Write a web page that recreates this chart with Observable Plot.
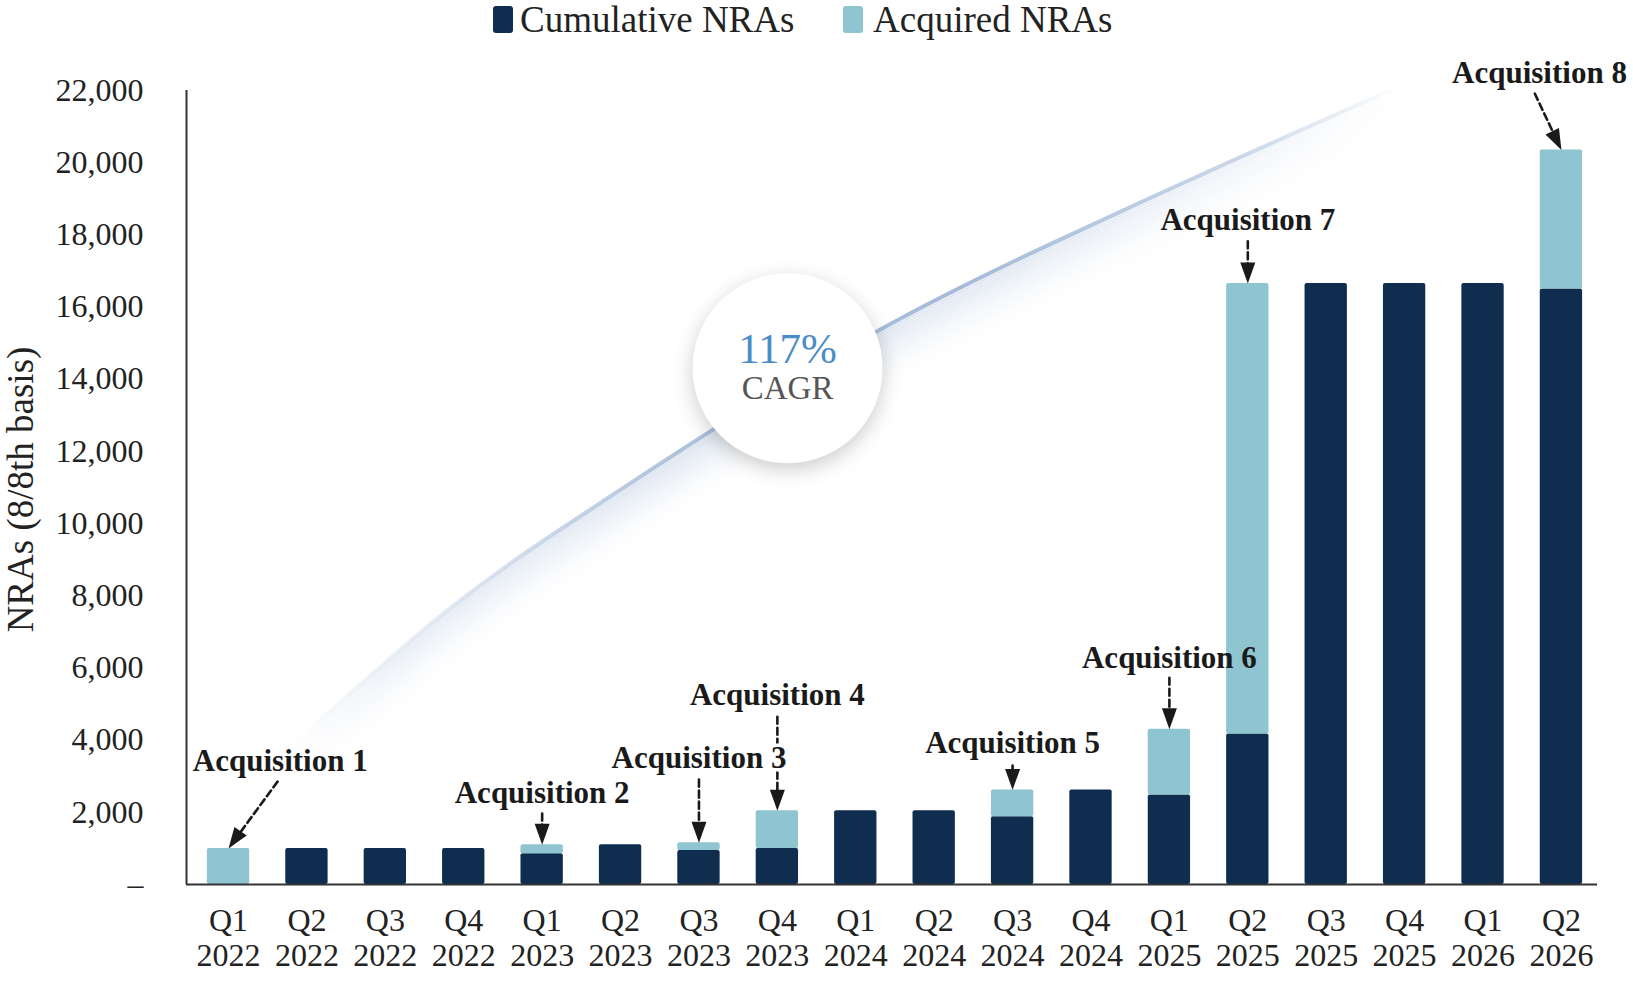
<!DOCTYPE html>
<html>
<head>
<meta charset="utf-8">
<script src="https://cdn.jsdelivr.net/npm/d3@7"></script>
<script src="https://cdn.jsdelivr.net/npm/@observablehq/plot@0.6"></script>
<style>
html, body { margin: 0; padding: 0; background: #fff; }
body { width: 1633px; height: 996px; overflow: hidden; font-family: "Liberation Serif", "Times New Roman", serif; }
#legend { position: relative; height: 40px; }
.sw { position: absolute; top: 6px; width: 20px; height: 27px; border-radius: 3px; }
.lt { position: absolute; top: 0; height: 40px; line-height: 40px; font-size: 37px; color: #222; white-space: nowrap; }
svg g[aria-label="dot"] circle { filter: drop-shadow(0px 6px 10px rgba(0,0,0,0.20)); }
</style>
</head>
<body>
<div id="legend"></div>
<div id="chart"></div>
<script>
// ---------- data ----------
const quarters = ["Q1\n2022","Q2\n2022","Q3\n2022","Q4\n2022",
                  "Q1\n2023","Q2\n2023","Q3\n2023","Q4\n2023",
                  "Q1\n2024","Q2\n2024","Q3\n2024","Q4\n2024",
                  "Q1\n2025","Q2\n2025","Q3\n2025","Q4\n2025",
                  "Q1\n2026","Q2\n2026"];
const cumulativeNRAs = [0, 1000, 1000, 1000, 850, 1100, 940, 1000, 2040, 2040, 1880, 2620, 2480, 4170, 16650, 16650, 16650, 16500];
const acquiredNRAs   = [1000, 0, 0, 0, 250, 0, 220, 1040, 0, 0, 740, 0, 1820, 12480, 0, 0, 0, 3850];
const seriesNames  = ["Cumulative NRAs", "Acquired NRAs"];
const seriesColors = ["#0f2d4e", "#8ec5d0"];
const yTicks = d3.range(0, 22001, 2000);
const yLabel = "NRAs (8/8th basis)";
const cagrValue = "117%";
const cagrText = "CAGR";
const acquisitionLabels  = ["Acquisition 1","Acquisition 2","Acquisition 3","Acquisition 4",
                            "Acquisition 5","Acquisition 6","Acquisition 7","Acquisition 8"];
const acquisitionQuarter = [0, 4, 6, 7, 10, 12, 13, 17];
// CAGR swoosh path (quarter index, NRAs)
const swooshX = [0.79, 2.83, 4.53, 6.19, 8.32, 10.42, 12.78, 14.95];
const swooshY = [3846, 7665, 10266, 12618, 15385, 17682, 20033, 22136];
const cagrBadge = {x: 7.13, y: 14305};

// ---------- annotation layout (label / arrow start, in data units) ----------
const annLayout = [
  {tx: 0.66,  ty: 3431,  ax: 0.625, ay: 2850,  rot: 35,  halo: false},
  {tx: 4,     ty: 2546,  ax: 4,     ay: 1965,  rot: 0,   halo: false},
  {tx: 6,     ty: 3514,  ax: 6,     ay: 2905,  rot: 0,   halo: true},
  {tx: 7,     ty: 5257,  ax: 7,     ay: 4649,  rot: 0,   halo: false},
  {tx: 10,    ty: 3929,  ax: 10,    ay: 3293,  rot: 0,   halo: false},
  {tx: 12,    ty: 6281,  ax: 12,    ay: 5728,  rot: 0,   halo: false},
  {tx: 13,    ty: 18400, ax: 13,    ay: 17820, rot: 0,   halo: false},
  {tx: 16.72, ty: 22496, ax: 16.66, ay: 21915, rot: -26, halo: false}
];

// ---------- derived tables ----------
const totals = quarters.map((q, i) => cumulativeNRAs[i] + acquiredNRAs[i]);
const rects = quarters.flatMap((q, i) => [
  {i, series: seriesNames[0], y1: 0, y2: cumulativeNRAs[i]},
  {i, series: seriesNames[1], y1: cumulativeNRAs[i], y2: totals[i]}
]).filter(d => d.y2 > d.y1);
const anns = acquisitionLabels.map((label, k) => ({
  label, ...annLayout[k],
  tipX: acquisitionQuarter[k], tipY: totals[acquisitionQuarter[k]]
}));
const swoosh = swooshX.map((x, k) => ({x, y: swooshY[k]}));

// ---------- legend ----------
const legend = document.getElementById("legend");
const legendPos = [[493, 520], [843, 873]];
seriesNames.forEach((name, k) => {
  const s = document.createElement("div");
  s.className = "sw"; s.style.left = legendPos[k][0] + "px"; s.style.background = seriesColors[k];
  const t = document.createElement("div");
  t.className = "lt"; t.style.left = legendPos[k][1] + "px"; t.textContent = name;
  legend.append(s, t);
});

// arrowhead symbol: apex at origin, pointing down
const arrowHead = {
  draw(context) {
    context.moveTo(0, 0);
    context.lineTo(-7.5, -21);
    context.lineTo(7.5, -21);
    context.closePath();
  }
};

const xDomain = [-0.536, 17.46];
const marks = [];
// swoosh shadow
for (let k = 1; k <= 22; k++) {
  marks.push(Plot.line(swoosh, {x: "x", y: "y", curve: "natural", dy: k * 2.8,
    stroke: "url(#swooshShadow)", strokeWidth: 3.4,
    strokeOpacity: 0.30 * Math.pow(1 - k / 23, 1.6)}));
}
const annText = {x: "tx", y: "ty", text: "label", fontSize: 31, fontWeight: "bold", fill: "#1a1a1a"};
marks.push(
  Plot.line(swoosh, {x: "x", y: "y", curve: "natural", stroke: "url(#swooshStroke)", strokeWidth: 4}),
  Plot.dot([cagrBadge], {x: "x", y: "y", r: 95, fill: "white", stroke: "none"}),
  Plot.text([cagrBadge], {x: "x", y: "y", text: () => cagrValue, dy: -19, fontSize: 43, fill: "#4a8cc6"}),
  Plot.text([cagrBadge], {x: "x", y: "y", text: () => cagrText, dy: 20, fontSize: 33, fill: "#555555"}),
  Plot.rect(rects, {x1: d => d.i - 0.27, x2: d => d.i + 0.27, y1: "y1", y2: "y2", fill: "series", rx: 2}),
  Plot.ruleY([0], {stroke: "#333", strokeWidth: 2}),
  Plot.ruleX([xDomain[0]], {y1: 0, y2: 22000, stroke: "#333", strokeWidth: 2}),
  Plot.axisY({ticks: yTicks, tickSize: 0, tickPadding: 43, label: null,
    tickFormat: d => d === 0 ? "–" : d3.format(",")(d), fontSize: 32, fill: "#222"}),
  Plot.axisX({ticks: d3.range(quarters.length), tickSize: 0, tickPadding: 21, label: null,
    tickFormat: i => quarters[i], lineHeight: 1.1, fontSize: 32, fill: "#222"}),
  Plot.text([yLabel], {frameAnchor: "left", textAnchor: "middle", rotate: -90, dx: -165, dy: 2,
    text: d => d, fontSize: 37, fill: "#222"}),
  Plot.arrow(anns, {x1: "ax", y1: "ay", x2: "tipX", y2: "tipY", headLength: 0, insetEnd: 14,
    stroke: "#1a1a1a", strokeWidth: 2.6, strokeDasharray: "7,4"}),
  Plot.dot(anns, {x: "tipX", y: "tipY", symbol: arrowHead, rotate: "rot", fill: "#1a1a1a", stroke: "none", r: 5}),
  Plot.text(anns, {...annText, filter: d => !d.halo}),
  Plot.text(anns, {...annText, filter: d => d.halo, stroke: "white", strokeWidth: 7, paintOrder: "stroke"})
);

const chart = Plot.plot({
  width: 1633,
  height: 956,
  marginLeft: 186,
  marginRight: 36,
  marginTop: 50,
  marginBottom: 112,
  x: {type: "linear", domain: xDomain},
  y: {domain: [0, 22000]},
  color: {domain: seriesNames, range: seriesColors},
  style: {fontFamily: "'Liberation Serif', 'Times New Roman', serif", fontSize: "32px", color: "#222", background: "white", overflow: "visible"},
  marks
});

// gradient definitions for the CAGR swoosh
const defs = d3.select(chart).insert("defs", ":first-child");
const g1 = defs.append("linearGradient").attr("id", "swooshStroke").attr("x1", 0).attr("x2", 1).attr("y1", 0).attr("y2", 0);
[[0, 0], [0.12, 0.25], [0.35, 0.9], [0.6, 1], [0.85, 0.6], [1, 0]].forEach(([o, a]) =>
  g1.append("stop").attr("offset", o).attr("stop-color", "#a5bbd8").attr("stop-opacity", a));
const g2 = defs.append("linearGradient").attr("id", "swooshShadow").attr("x1", 0).attr("x2", 1).attr("y1", 0).attr("y2", 0);
[[0, 0], [0.1, 0.6], [0.35, 1], [0.65, 0.9], [0.88, 0.4], [1, 0]].forEach(([o, a]) =>
  g2.append("stop").attr("offset", o).attr("stop-color", "#a9bedb").attr("stop-opacity", a));

document.getElementById("chart").append(chart);
</script>
</body>
</html>
